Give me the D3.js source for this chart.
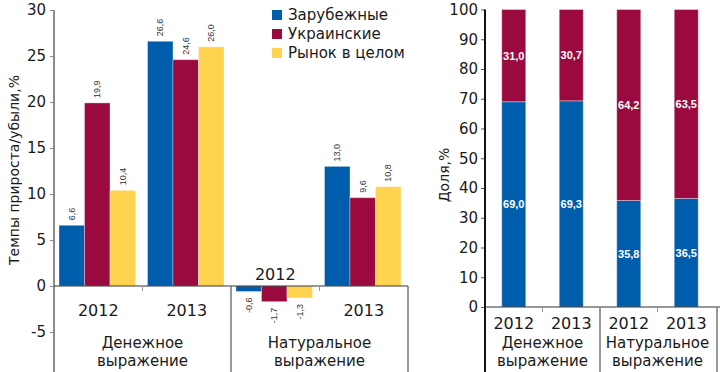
<!DOCTYPE html>
<html>
<head>
<meta charset="utf-8">
<script src="https://cdn.jsdelivr.net/npm/d3@7"></script>
<style>
  body { margin: 0; background: #fff; }
  svg { display: block; }
  text { font-family: "DejaVu Sans", sans-serif; fill: #1a1a1a; }
</style>
</head>
<body>
<svg width="720" height="372"></svg>
<script>
// data
var series = ['Зарубежные', 'Украинские', 'Рынок в целом'];
var colors = ['#005dab', '#9a0a3e', '#fdd34f'];
var cats = ['m2012', 'm2013', 'n2012', 'n2013'];
var years = ['2012', '2013', '2012', '2013'];
var groups = [['Денежное', 'выражение'], ['Натуральное', 'выражение']];
var growth = [
  [6.6, 19.9, 10.4],
  [26.6, 24.6, 26.0],
  [-0.6, -1.7, -1.3],
  [13.0, 9.6, 10.8]
];
var shareForeign = [69.0, 69.3, 35.8, 36.5];
var shareLocal = [31.0, 30.7, 64.2, 63.5];
var growthTicks = [-5, 0, 5, 10, 15, 20, 25, 30];
var shareTicks = [0, 10, 20, 30, 40, 50, 60, 70, 80, 90, 100];

var svg = d3.select('svg');
var fmt = function(v){ return v.toFixed(1).replace('.', ','); };

// ---------- left chart ----------
var y1 = d3.scaleLinear().domain([-5, 30]).range([332, 10]);
var x1 = d3.scaleBand().domain(cats).range([54, 408]);
var xs = d3.scaleBand().domain(series).range([5, 81.5]);

var left = svg.append('g');

// y axis
var ay1 = left.append('g').attr('transform', 'translate(54,0)')
  .call(d3.axisLeft(y1).tickValues(growthTicks).tickSize(4).tickPadding(4).tickFormat(String));
ay1.select('.domain').remove();
ay1.selectAll('.tick line').attr('stroke', '#888');
ay1.selectAll('.tick text').style('font-size', '15px').style('fill', '#1a1a1a').style('font-family', '"DejaVu Sans", sans-serif');
left.append('line').attr('x1', 54).attr('x2', 54).attr('y1', y1(30)).attr('y2', 372)
  .attr('stroke', '#8c8c8c').attr('stroke-width', 2);

// bars
cats.forEach(function(c, i){
  var g = left.append('g').attr('transform', 'translate(' + x1(c) + ',0)');
  growth[i].forEach(function(v, j){
    var x = xs(series[j]);
    var top = y1(Math.max(0, v)), bot = y1(Math.min(0, v));
    g.append('rect').attr('x', x).attr('y', top).attr('width', xs.bandwidth())
      .attr('height', bot - top).attr('fill', colors[j])
      .attr('stroke', '#fff').attr('stroke-opacity', 0.35).attr('stroke-width', 1);
    var cx = x + xs.bandwidth() / 2;
    var ly = v >= 0 ? top - 5 : bot + 6;
    g.append('text').attr('transform', 'translate(' + (cx + 3) + ',' + ly + ') rotate(-90)')
      .attr('text-anchor', v >= 0 ? 'start' : 'end')
      .style('font-family', '"Liberation Sans", Arial, sans-serif')
      .style('font-size', '9px').style('fill', '#333').text(fmt(v));
  });
});

// zero line and frame
left.append('line').attr('x1', 54).attr('x2', 408).attr('y1', y1(0)).attr('y2', y1(0))
  .attr('stroke', '#333').attr('stroke-width', 1.2);
[x1('n2012'), 408].forEach(function(x){
  left.append('line').attr('x1', x).attr('x2', x).attr('y1', y1(0)).attr('y2', 372)
    .attr('stroke', '#777').attr('stroke-width', 1.5);
});
[x1('m2013'), x1('n2013')].forEach(function(x){
  left.append('line').attr('x1', x).attr('x2', x).attr('y1', y1(0)).attr('y2', y1(0) + 5)
    .attr('stroke', '#999').attr('stroke-width', 1);
});
cats.forEach(function(c, i){
  var neg = d3.max(growth[i]) < 0;
  left.append('text').attr('x', x1(c) + x1.bandwidth() / 2).attr('y', neg ? 280 : 316)
    .attr('text-anchor', 'middle').style('font-size', '16px').text(years[i]);
});
groups.forEach(function(lines, k){
  var cx = x1(cats[k * 2 + 1]);
  lines.forEach(function(t, r){
    left.append('text').attr('x', cx).attr('y', 348 + r * 18).attr('text-anchor', 'middle')
      .style('font-size', '15px').text(t);
  });
});

left.append('text').attr('transform', 'translate(19,170) rotate(-90)').attr('text-anchor', 'middle')
  .style('font-size', '14px').text('Темпы прироста/убыли,%');

// legend
series.forEach(function(s, j){
  var lg = left.append('g').attr('transform', 'translate(272,' + (10 + j * 19) + ')');
  lg.append('rect').attr('width', 10).attr('height', 10).attr('fill', colors[j]);
  lg.append('text').attr('x', 16).attr('y', 10).style('font-size', '15px').text(s);
});

// ---------- right chart ----------
var y2 = d3.scaleLinear().domain([0, 100]).range([307, 9.5]);
var x2 = d3.scaleBand().domain(cats).range([485, 715]);
var bw = 24;
var right = svg.append('g');

var ay2 = right.append('g').attr('transform', 'translate(485,0)')
  .call(d3.axisLeft(y2).tickValues(shareTicks).tickSize(4).tickPadding(3).tickFormat(String));
ay2.select('.domain').remove();
ay2.selectAll('.tick line').attr('stroke', '#555');
ay2.selectAll('.tick text').style('font-size', '15px').style('fill', '#1a1a1a').style('font-family', '"DejaVu Sans", sans-serif');
right.append('line').attr('x1', 485).attr('x2', 485).attr('y1', y2(100)).attr('y2', 372)
  .attr('stroke', '#111').attr('stroke-width', 2);

cats.forEach(function(c, i){
  var cx = x2(c) + x2.bandwidth() / 2;
  var segs = [[0, shareForeign[i], colors[0]], [shareForeign[i], 100, colors[1]]];
  segs.forEach(function(s, k){
    right.append('rect').attr('x', cx - bw / 2).attr('y', y2(s[1])).attr('width', bw)
      .attr('height', y2(s[0]) - y2(s[1])).attr('fill', s[2])
      .attr('stroke', '#fff').attr('stroke-opacity', 0.35).attr('stroke-width', 1);
    var val = k === 0 ? shareForeign[i] : shareLocal[i];
    right.append('text').attr('x', cx).attr('y', y2((s[0] + s[1]) / 2) + 4)
      .attr('text-anchor', 'middle').style('fill', '#fff')
      .style('font-family', '"Liberation Sans", Arial, sans-serif')
      .style('font-size', '11px').style('font-weight', 'bold').text(fmt(val));
  });
  right.append('text').attr('x', cx).attr('y', 329).attr('text-anchor', 'middle')
    .style('font-size', '16px').text(years[i]);
});

right.append('line').attr('x1', 485).attr('x2', 720).attr('y1', y2(0)).attr('y2', y2(0))
  .attr('stroke', '#333').attr('stroke-width', 1.2);
[x2('n2012'), 717].forEach(function(x){
  right.append('line').attr('x1', x).attr('x2', x).attr('y1', y2(0)).attr('y2', 372)
    .attr('stroke', '#777').attr('stroke-width', 1.5);
});
[x2('m2013'), x2('n2013')].forEach(function(x){
  right.append('line').attr('x1', x).attr('x2', x).attr('y1', y2(0)).attr('y2', y2(0) + 5)
    .attr('stroke', '#999').attr('stroke-width', 1);
});
groups.forEach(function(lines, k){
  var cx = x2(cats[k * 2 + 1]);
  lines.forEach(function(t, r){
    right.append('text').attr('x', cx).attr('y', 348 + r * 18).attr('text-anchor', 'middle')
      .style('font-size', '15px').text(t);
  });
});
right.append('text').attr('transform', 'translate(449,175) rotate(-90)').attr('text-anchor', 'middle')
  .style('font-size', '14px').text('Доля,%');
</script>
</body>
</html>
